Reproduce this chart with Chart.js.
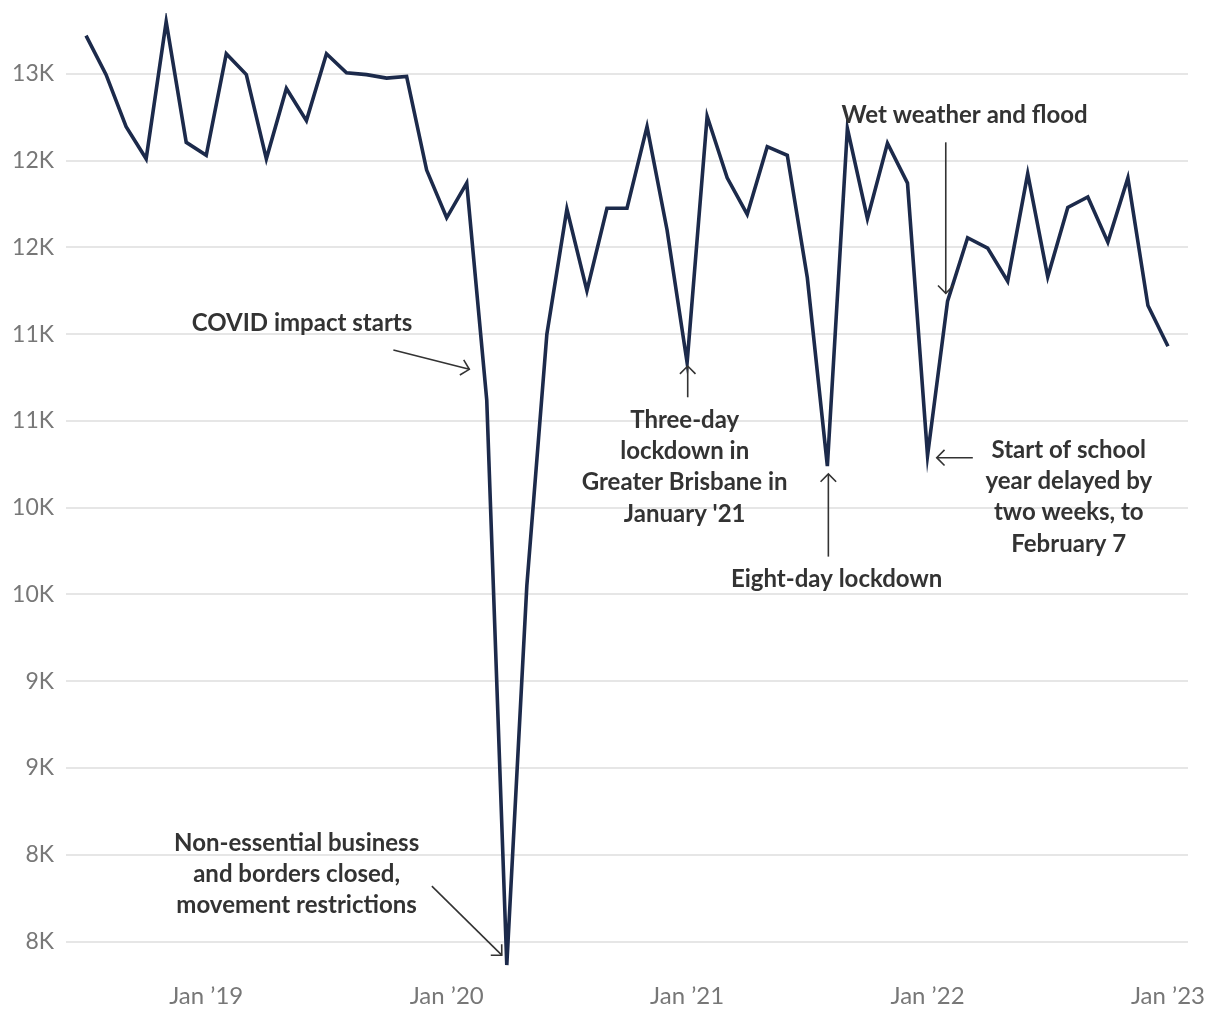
<!DOCTYPE html>
<html>
<head>
<meta charset="utf-8">
<title>Monthly series with annotations</title>
<script src="https://cdn.jsdelivr.net/npm/chart.js@4"></script>
<style>
  html, body { margin: 0; padding: 0; background: #fff; }
  #wrap { width: 1220px; height: 1020px; }
</style>
</head>
<body>
<div id="wrap"><canvas id="chart" width="1220" height="1020"></canvas></div>
<script>
// monthly categories, Jul 2018 -> Jan 2023
const months = [
  "2018-07","2018-08","2018-09","2018-10","2018-11","2018-12",
  "2019-01","2019-02","2019-03","2019-04","2019-05","2019-06",
  "2019-07","2019-08","2019-09","2019-10","2019-11","2019-12",
  "2020-01","2020-02","2020-03","2020-04","2020-05","2020-06",
  "2020-07","2020-08","2020-09","2020-10","2020-11","2020-12",
  "2021-01","2021-02","2021-03","2021-04","2021-05","2021-06",
  "2021-07","2021-08","2021-09","2021-10","2021-11","2021-12",
  "2022-01","2022-02","2022-03","2022-04","2022-05","2022-06",
  "2022-07","2022-08","2022-09","2022-10","2022-11","2022-12",
  "2023-01"
];

const monthlyValues = [
  13220, 12995, 12695, 12510, 13300, 12605,
  12530, 13115, 12995, 12510, 12915, 12730,
  13115, 13005, 12995, 12975, 12985, 12445,
  12170, 12370, 11120, 7865, 10050, 11500,
  12220, 11750, 12225, 12225, 12695, 12100,
  11335, 12755, 12400, 12190, 12580, 12530,
  11825, 10740, 12685, 12165, 12600, 12370,
  10800, 11690, 12055, 11995, 11805, 12425,
  11830, 12230, 12290, 12030, 12400, 11665,
  11430
];

// axis ticks
const xTickMonths = ["2019-01", "2020-01", "2021-01", "2022-01", "2023-01"];
const xTickLabels = ["Jan \u201919", "Jan \u201920", "Jan \u201921", "Jan \u201922", "Jan \u201923"];
const yTickValues = [13000, 12500, 12000, 11500, 11000, 10500, 10000, 9500, 9000, 8500, 8000];
const yTickLabels = ["13K", "12K", "12K", "11K", "11K", "10K", "10K", "9K", "9K", "8K", "8K"];

// notes: text anchor and arrow ends in data units (month index, value)
const notes = [
  { lines: ["COVID impact starts"], at: [10.78, 11564],
    from: [15.34, 11409], to: [19.13, 11297] },
  { lines: ["Non-essential business", "and borders closed,", "movement restrictions"], at: [10.51, 8568],
    from: [17.26, 8320], to: [20.75, 7922] },
  { lines: ["Three-day", "lockdown in", "Greater Brisbane in", "January '21"], at: [29.88, 11005],
    from: [30.03, 11136], to: [30.03, 11316] },
  { lines: ["Eight-day lockdown"], at: [37.46, 10089],
    from: [37.05, 10218], to: [37.05, 10694] },
  { lines: ["Start of school", "year delayed by", "two weeks, to", "February 7"], at: [49.05, 10832],
    from: [44.26, 10788], to: [42.46, 10788] },
  { lines: ["Wet weather and flood"], at: [43.85, 12762],
    from: [42.91, 12605], to: [42.91, 11735] }
];

const LINE_COLOR = "#1c2a4b";
const NOTE_COLOR = "#333333";
const TICK_COLOR = "#777777";

Chart.defaults.font.family = "Lato, 'Open Sans', sans-serif";

const points = monthlyValues.map((v, i) => ({ x: i, y: v }));

// draws notes + arrows on top of the line
const notesPlugin = {
  id: "notes",
  afterDatasetsDraw(chart) {
    const { ctx, scales } = chart;
    const xs = scales.x;
    const ys = scales.y;
    ctx.save();
    ctx.fillStyle = NOTE_COLOR;
    ctx.strokeStyle = NOTE_COLOR;
    ctx.lineWidth = 1.6;
    ctx.font = "bold 24px Lato, 'Open Sans', sans-serif";
    ctx.textAlign = "center";
    ctx.textBaseline = "middle";

    notes.forEach((n) => {
      const tx = xs.getPixelForValue(n.at[0]);
      const ty = ys.getPixelForValue(n.at[1]);
      n.lines.forEach((line, k) => {
        ctx.fillText(line, tx, ty + k * 31.3);
      });

      const x1 = xs.getPixelForValue(n.from[0]);
      const y1 = ys.getPixelForValue(n.from[1]);
      const x2 = xs.getPixelForValue(n.to[0]);
      const y2 = ys.getPixelForValue(n.to[1]);
      ctx.beginPath();
      ctx.moveTo(x1, y1);
      ctx.lineTo(x2, y2);
      ctx.stroke();

      const ang = Math.atan2(y2 - y1, x2 - x1);
      const head = 11;
      ctx.beginPath();
      ctx.moveTo(x2 - head * Math.cos(ang - Math.PI / 4), y2 - head * Math.sin(ang - Math.PI / 4));
      ctx.lineTo(x2, y2);
      ctx.lineTo(x2 - head * Math.cos(ang + Math.PI / 4), y2 - head * Math.sin(ang + Math.PI / 4));
      ctx.stroke();
    });
    ctx.restore();
  }
};

new Chart(document.getElementById("chart"), {
  type: "line",
  data: {
    datasets: [
      {
        label: "Monthly total",
        data: points,
        borderColor: LINE_COLOR,
        borderWidth: 3.6,
        pointRadius: 0,
        tension: 0,
        fill: false,
        borderJoinStyle: "miter",
      },
    ],
  },
  options: {
    responsive: false,
    animation: false,
    devicePixelRatio: 1,
    layout: { padding: { top: 13, right: 32, left: 0, bottom: 0 } },
    plugins: {
      legend: { display: false },
      tooltip: { enabled: false },
    },
    scales: {
      x: {
        type: "linear",
        min: -1,
        max: months.length,
        border: { display: false },
        grid: { display: false, drawTicks: false },
        afterBuildTicks: (axis) => {
          axis.ticks = xTickMonths.map((m) => ({ value: months.indexOf(m) }));
        },
        afterFit: (axis) => {
          axis.height = 35;
          axis.paddingLeft = 0;
          axis.paddingRight = 0;
        },
        ticks: {
          autoSkip: false,
          maxRotation: 0,
          padding: -3,
          color: TICK_COLOR,
          font: { size: 24 },
          callback: (value, idx) => xTickLabels[idx],
        },
      },
      y: {
        min: 7750,
        max: 13350,
        border: { display: false },
        grid: { color: "#e6e6e6", lineWidth: 2, drawTicks: false },
        afterBuildTicks: (axis) => {
          axis.ticks = yTickValues.map((v) => ({ value: v }));
        },
        afterFit: (axis) => {
          axis.width = 66;
          axis.paddingTop = 0;
          axis.paddingBottom = 0;
        },
        ticks: {
          padding: 12,
          color: TICK_COLOR,
          font: { size: 23 },
          callback: (value, idx) => yTickLabels[idx],
        },
      },
    },
  },
  plugins: [notesPlugin],
});
</script>
</body>
</html>
